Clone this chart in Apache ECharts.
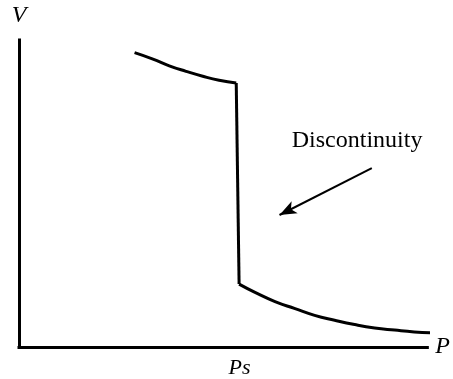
<!DOCTYPE html>
<html>
<head>
<meta charset="utf-8">
<script src="https://cdn.jsdelivr.net/npm/echarts@6/dist/echarts.min.js"></script>
<style>
  html, body { margin: 0; padding: 0; background: #fff; }
  #chart { width: 453px; height: 379px; }
</style>
</head>
<body>
<div id="chart"></div>
<script>
// Volume vs. pressure: a smooth branch, a sudden drop at Ps, then a second smooth branch.
const upperP = [28.3, 32.8, 36.8, 40.9, 45.0, 49.0, 53.2];
const upperV = [95.9, 93.8, 91.6, 89.8, 88.2, 86.9, 86.0];
const lowerP = [53.9, 57.8, 62.7, 67.6, 72.4, 77.3, 82.2, 87.1, 92.0, 96.8, 100.9];
const lowerV = [20.5, 17.8, 14.8, 12.5, 10.3, 8.7, 7.3, 6.2, 5.5, 4.9, 4.6];
const saturationP = [54];
const tickLabels = ['Ps'];

// Annotation arrow (tail -> head) and its caption, in P/V units
const arrowTail = [86.4, 58.3];
const arrowHead = [63.8, 43.0];
const captionAt = [82.8, 67.1];
const captionText = 'Discontinuity';

const zip = (xs, ys) => xs.map((x, i) => [x, ys[i]]);
const upper = zip(upperP, upperV);
const lower = zip(lowerP, lowerV);
const drop = [upper[upper.length - 1], lower[0]];

const serif = '"Liberation Serif", "DejaVu Serif", serif';
const ink = '#000';
const curveStyle = { color: ink, width: 3 };

const chart = echarts.init(document.getElementById('chart'), null, { renderer: 'canvas' });
chart.setOption({
  animation: false,
  backgroundColor: '#fff',
  grid: { left: 19, right: 24, top: 40, bottom: 29, containLabel: false },
  xAxis: {
    type: 'value', min: 0, max: 100,
    name: 'P', nameLocation: 'end', nameGap: 8,
    nameTextStyle: { fontFamily: serif, fontStyle: 'italic', fontSize: 24, color: ink, verticalAlign: 'middle', padding: [6, 0, 0, 0] },
    axisLine: { show: true, lineStyle: { color: ink, width: 3, cap: 'square' } },
    axisTick: { show: false },
    splitLine: { show: false },
    axisLabel: {
      show: true, margin: 10,
      customValues: saturationP,
      formatter: () => tickLabels[0],
      fontFamily: serif, fontStyle: 'italic', fontSize: 22, color: ink
    }
  },
  yAxis: {
    type: 'value', min: 0, max: 100,
    name: 'V', nameLocation: 'end', nameGap: 12,
    nameTextStyle: { fontFamily: serif, fontStyle: 'italic', fontSize: 24, color: ink, align: 'center' },
    axisLine: { show: true, lineStyle: { color: ink, width: 3, cap: 'square' } },
    axisTick: { show: false },
    axisLabel: { show: false },
    splitLine: { show: false }
  },
  series: [
    {
      type: 'line', data: upper, smooth: 0.5, symbol: 'none', clip: false,
      lineStyle: curveStyle
    },
    {
      type: 'line', data: drop, symbol: 'none', clip: false,
      lineStyle: curveStyle
    },
    {
      type: 'line', data: lower, smooth: 0.5, symbol: 'none', clip: false,
      lineStyle: curveStyle,
      markLine: {
        silent: true,
        symbol: ['none', 'arrow'],
        symbolSize: [10, 17],
        lineStyle: { color: ink, width: 2, type: 'solid' },
        label: { show: false },
        data: [[{ coord: arrowTail }, { coord: arrowHead }]]
      },
      markPoint: {
        silent: true,
        symbol: 'circle', symbolSize: 0,
        label: {
          show: true, position: 'inside',
          formatter: captionText,
          fontFamily: serif, fontSize: 24, color: ink
        },
        data: [{ coord: captionAt }]
      }
    }
  ]
});
</script>
</body>
</html>
